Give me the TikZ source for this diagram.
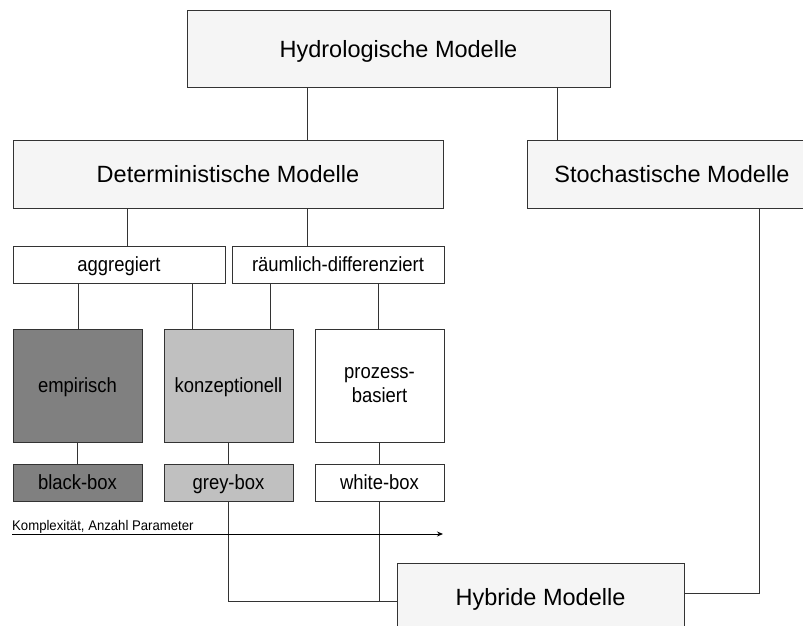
\documentclass[tikz,border=0pt]{standalone}
\usepackage{fontspec}
\setmainfont{Liberation Sans}
\newfontfamily\narrowsans{Liberation Sans}[FakeStretch=0.9]
\newfontfamily\slimsans{Liberation Sans}[FakeStretch=0.94]
\usetikzlibrary{arrows.meta}
\definecolor{edge}{HTML}{333333}
\definecolor{paper}{HTML}{F5F5F5}
\definecolor{darkfill}{HTML}{808080}
\definecolor{midfill}{HTML}{C0C0C0}

\begin{document}
\begin{tikzpicture}[x=1pt,y=-1pt,
  box/.style={draw=edge,line width=1pt,rectangle,inner sep=0pt,outer sep=0pt,
              anchor=north west,align=center,text=black},
  % text boxes as tall as a capital letter, so the caps sit centred
  big/.style={box,fill=paper,font=\fontsize{23.5}{28}\selectfont,
              text height=16.8pt,text depth=0pt},
  midtext/.style={box,fill=white,font=\narrowsans\fontsize{20.5}{24}\selectfont},
  mid/.style={midtext,text height=14.7pt,text depth=0pt},
  tall/.style={minimum width=129,minimum height=113},
  flat/.style={minimum width=129,minimum height=37},
  link/.style={draw=edge,line width=0.9pt},
  axis/.style={draw=black,line width=0.9pt,-{Stealth[length=6pt,width=5pt]}}]
\useasboundingbox (0,0) rectangle (803,626);
\clip (0,0) rectangle (803,626);

% column positions of the vertical connectors
\coordinate (cDet) at (307,0);
\coordinate (cSto) at (557,0);
\coordinate (cAgg) at (127,0);
\coordinate (cEmp) at (78,0);
\coordinate (cKonA) at (192,0);
\coordinate (cKonB) at (270,0);
\coordinate (cPro) at (378,0);
\coordinate (cHyb) at (759,0);

% boxes
\node[big,minimum width=423,minimum height=76] (hydro) at (187,11) {Hydrologische Modelle};
\node[big,minimum width=430,minimum height=68] (det) at (13,140) {Deterministische Modelle};
\node[big,minimum width=290,minimum height=68] (sto) at (527,140) {Stochastische Modelle};

\node[mid,minimum width=212,minimum height=37] (agg) at (13,246) {aggregiert};
\node[mid,minimum width=212,minimum height=37] (rd) at (232,246) {räumlich-differenziert};

\node[mid,tall,fill=darkfill] (emp) at (13,329) {empirisch};
\node[mid,tall,fill=midfill] (kon) at (164,329) {konzeptionell};
\node[midtext,tall] (pro) at (315,329) {prozess-\\basiert};

\node[mid,flat,fill=darkfill] (bb) at (13,464) {black-box};
\node[mid,flat,fill=midfill] (gb) at (164,464) {grey-box};
\node[mid,flat] (wb) at (315,464) {white-box};

\node[big,minimum width=287,minimum height=68] (hyb) at (397,563) {Hybride Modelle};

% tree connectors
\draw[link] (hydro.south -| cDet) -- (det.north -| cDet);
\draw[link] (hydro.south -| cSto) -- (sto.north -| cSto);
\draw[link] (det.south -| cAgg) -- (agg.north -| cAgg);
\draw[link] (det.south -| cDet) -- (rd.north -| cDet);
\draw[link] (agg.south -| cEmp) -- (emp.north -| cEmp);
\draw[link] (agg.south -| cKonA) -- (kon.north -| cKonA);
\draw[link] (rd.south -| cKonB) -- (kon.north -| cKonB);
\draw[link] (rd.south -| cPro) -- (pro.north -| cPro);
\draw[link] (emp.south) -- (bb.north);
\draw[link] (kon.south) -- (gb.north);
\draw[link] (pro.south) -- (wb.north);

% links into the hybrid models
\coordinate (hybIn) at ([yshift=-4pt]hyb.west);
\draw[link] (gb.south) |- (hybIn);
\draw[link] (wb.south) -- (wb.south |- hybIn);
\draw[link] (sto.south -| cHyb) |- ([yshift=4pt]hyb.east);

% complexity axis
\coordinate (axStart) at (12,534);
\coordinate (axEnd) at (443,534);
\draw[axis] (axStart) -- (axEnd);
\node[anchor=base west,inner sep=0pt,font=\slimsans\fontsize{14}{16}\selectfont] (axLabel) at (12,530.5)
  {Komplexität, Anzahl Parameter};
\end{tikzpicture}
\end{document}
